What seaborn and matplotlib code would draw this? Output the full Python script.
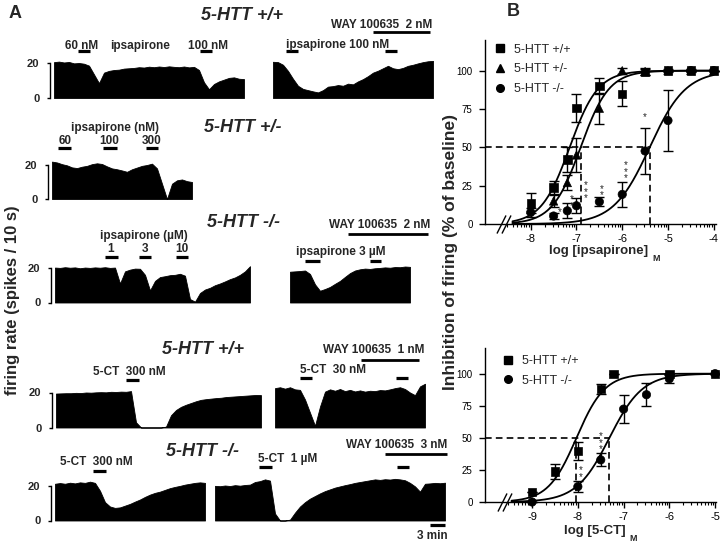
import numpy as np
import pandas as pd
import matplotlib
matplotlib.use("Agg")
import matplotlib.pyplot as plt
from matplotlib.lines import Line2D
import seaborn as sns

# ---------------- DATA ----------------
# Panel A: firing-rate traces (spikes / 10 s), one value per minute
TR1_LEFT = [20.5, 20.8, 20.3, 20.6, 19.8, 20.0, 19.6, 18.5, 13.5, 8.5, 14.5, 15.5, 16.0, 16.2,
            16.8, 17.0, 17.2, 17.6, 17.4, 17.9, 17.6, 18.0, 17.7, 18.1, 17.8, 17.6, 18.0, 17.5,
            17.8, 16.0, 9.0, 5.0, 8.0, 9.5, 10.5, 11.5, 11.8, 11.0, 10.8]
TR1_RIGHT = [20.7, 20.5, 19.0, 15.5, 11.0, 7.0, 5.2, 4.5, 3.8, 3.2, 4.5, 6.5, 6.8, 7.4, 7.0,
             8.2, 7.8, 9.5, 10.8, 12.5, 14.5, 15.6, 17.0, 18.4, 17.0, 16.5, 17.2, 18.4, 19.0,
             19.8, 20.5, 21.0, 21.2]
TR2 = [22.0, 21.5, 20.5, 19.8, 18.6, 18.2, 19.0, 19.5, 20.5, 21.0, 20.6, 19.2, 18.0, 17.5,
       16.8, 16.0, 17.5, 18.5, 19.5, 20.0, 20.8, 18.0, 9.0, 0.0, 9.0, 11.0, 11.5, 10.5, 10.0]
TR3_LEFT = [20.2, 20.0, 20.4, 20.1, 20.3, 19.8, 20.2, 20.0, 20.3, 20.1, 20.4, 20.0, 20.2, 11.0,
            18.0, 19.0, 19.6, 19.5, 16.0, 7.0, 12.5, 14.7, 15.2, 15.8, 16.0, 16.6, 15.5, 2.0,
            0.5, 5.5, 7.5, 8.5, 10.0, 11.0, 12.2, 13.5, 14.5, 16.0, 18.0, 21.0]
TR3_RIGHT = [17.8, 18.0, 18.2, 18.5, 16.5, 10.5, 6.8, 7.8, 9.0, 10.8, 12.5, 14.8, 17.0, 18.5,
             19.2, 19.6, 19.4, 19.8, 20.0, 20.3, 20.1, 20.5, 20.4, 20.8, 20.6]
TR4_LEFT = [19.4, 19.5, 19.6, 19.6, 19.8, 19.7, 20.0, 19.9, 20.1, 20.2, 20.1, 20.4, 20.3, 20.5,
            20.4, 20.8, 3.0, 0.0, 0.0, 0.0, 0.0, 0.0, 0.5, 7.0, 10.0, 11.8, 13.0, 14.0, 15.0,
            15.8, 16.2, 16.5, 16.8, 17.0, 17.4, 17.6, 17.8, 18.0, 18.2, 18.4, 18.6, 18.5]
TR4_RIGHT = [22.5, 23.0, 22.2, 23.0, 21.8, 21.5, 16.0, 8.5, 1.0, 12.0, 20.5, 21.8, 21.0, 22.0,
             20.8, 21.5, 20.6, 21.2, 20.5, 21.0, 20.8, 21.4, 21.2, 21.8, 22.5, 23.0, 22.0, 20.0,
             18.5, 23.5, 25.0]
TR5_LEFT = [21.0, 21.4, 21.0, 21.6, 21.2, 21.8, 21.5, 22.2, 21.5, 17.0, 10.5, 8.0, 7.2, 7.5,
            8.5, 9.5, 10.8, 12.0, 13.5, 14.8, 15.8, 16.5, 17.5, 18.5, 19.2, 19.8, 20.5, 21.0,
            21.5, 21.8, 21.5]
TR5_RIGHT = [19.8, 19.6, 20.0, 19.7, 20.2, 19.9, 20.3, 20.5, 22.0, 22.5, 23.5, 22.8, 4.0, 0.0,
             0.0, 0.5, 4.5, 8.0, 10.5, 12.5, 14.0, 15.5, 16.8, 17.8, 18.8, 19.5, 20.2, 20.8,
             21.5, 22.0, 22.5, 23.0, 23.5, 23.2, 23.6, 23.4, 23.8, 23.5, 23.0, 21.5, 19.5, 16.5,
             21.0, 21.2, 21.5, 21.3, 21.6]

# drug application periods (minutes from start of each trace)
EV1_LEFT = [(4.8, 7.2), (29.2, 31.6)]
EV1_RIGHT = [(2.6, 5.0), (22.4, 24.8)]
WAY1 = (20.0, 31.4)
EV2 = [(1.2, 3.8), (10.2, 13.0), (18.8, 21.2)]
EV3_LEFT = [(10.0, 12.6), (16.8, 19.2), (24.2, 26.6)]
EV3_RIGHT = [(3.0, 6.0), (16.0, 18.2)]
WAY3 = (11.6, 27.6)
EV4_LEFT = [(14.0, 16.6)]
EV4_RIGHT = [(5.0, 7.4), (24.2, 26.6)]
WAY4 = (17.2, 28.8)
EV5_LEFT = [(7.6, 10.2)]
EV5_RIGHT = [(8.8, 11.4), (36.4, 38.8)]
WAY5 = (34.0, 46.4)
SCALE_MIN = 3

# Panel B top: ipsapirone concentration-response
IPS_LOG_WT = [-8, -7.5, -7.2, -7, -6.5, -6, -5.5, -5, -4.5, -4]
IPS_WT = [13.4, 23.8, 42, 75.5, 90, 85, 99, 100, 100, 100]
IPS_WT_ERR = [6.5, 4, 8, 9, 5, 8, 2, 0, 0, 0]
IPS_LOG_HET = [-7.5, -7.2, -7, -6.5, -6, -5.5, -5, -4.5, -4]
IPS_HET = [15, 27, 45, 75.5, 100, 99.5, 100, 100, 100]
IPS_HET_ERR = [4, 5, 11, 10, 2, 2, 1, 0, 0]
IPS_LOG_KO = [-8, -7.5, -7.2, -7, -6.5, -6, -5.5, -5, -4.5, -4]
IPS_KO = [7.6, 5.2, 8.6, 11.9, 14.5, 19.3, 47.6, 67.5, 100, 100]
IPS_KO_ERR = [3, 2, 5, 5, 3, 8, 15, 20, 1, 0]
IPS_EC50 = {"5-HTT +/+": -7.15, "5-HTT +/-": -6.91, "5-HTT -/-": -5.40}
IPS_HILL = {"5-HTT +/+": 1.4, "5-HTT +/-": 1.4, "5-HTT -/-": 1.1}

# Panel B bottom: 5-CT concentration-response
CT_LOG_WT = [-9, -8.5, -8, -7.5, -7.22, -6, -5]
CT_WT = [8, 23.7, 39.8, 88.3, 100, 100, 100]
CT_WT_ERR = [0, 6, 7, 4, 0, 0, 0]
CT_LOG_KO = [-9, -8, -7.5, -7, -6.5, -6, -5]
CT_KO = [0, 12, 32.8, 72.4, 83.6, 96, 100]
CT_KO_ERR = [0, 4, 5, 11, 9, 3, 0]
CT_EC50 = {"5-HTT +/+": -8.03, "5-HTT -/-": -7.31}
CT_HILL = {"5-HTT +/+": 1.4, "5-HTT -/-": 1.2}

# ---------------- STYLE ----------------
sns.set_theme(style="ticks")
plt.rcParams["font.family"] = ["Liberation Sans", "DejaVu Sans"]
plt.rcParams["axes.unicode_minus"] = False

W, H = 720, 543
PX_PER_MIN = 5
fig = plt.figure(figsize=(W / 100, H / 100), dpi=100)
fig.patch.set_facecolor("white")


def txt(x, y, s, ha="left", size=8.5, style="normal", weight="bold", rot=0):
    return fig.text(x / W, 1 - y / H, s, ha=ha, va="center", fontsize=size,
                    fontweight=weight, fontstyle=style, rotation=rot)


def trace(x0, base, scale, values, scalebar):
    n = len(values)
    ax = fig.add_axes([x0 / W, 1 - base / H, (n - 1) * PX_PER_MIN / W, 20 * scale / H])
    t = np.arange(n)
    ax.fill_between(t, values, 0, color="black", lw=0.6, clip_on=False)
    ax.set_xlim(0, n - 1)
    ax.set_ylim(0, 20)
    ax.patch.set_alpha(0)
    for s in ["top", "right", "bottom"]:
        ax.spines[s].set_visible(False)
    ax.set_xticks([])
    if scalebar:
        ax.spines["left"].set_position(("outward", 3))
        ax.spines["left"].set_bounds(0, 20)
        ax.spines["left"].set_linewidth(1.0)
        ax.spines["left"].set_color("black")
        ax.set_yticks([0, 20])
        ax.set_yticklabels(["0", "20"], fontweight="bold", fontsize=8)
        ax.tick_params(axis="y", length=2.5, width=1.0, pad=5, color="black")
    else:
        ax.spines["left"].set_visible(False)
        ax.set_yticks([])
    return (ax, base, scale)


def bars(info, events, y_px, lw=2.3):
    ax, base, scale = info
    yv = (base - y_px) / scale
    for t0, t1 in events:
        ax.plot([t0, t1], [yv, yv], color="black", lw=lw, solid_capstyle="butt", clip_on=False)


# ---------------- PANEL A ----------------
txt(15, 14, "A", ha="center", size=13)
txt(13, 300, "firing rate (spikes / 10 s)", ha="center", size=12, rot=90)

# row 1
txt(242, 15, "5-HTT +/+", ha="center", size=13, style="italic")
a = trace(54, 98, 1.75, TR1_LEFT, True)
bars(a, EV1_LEFT, 51)
txt(65, 46, "60 nM")
txt(110, 46, "ipsapirone")
txt(188, 46, "100 nM")
b = trace(273, 98, 1.75, TR1_RIGHT, False)
bars(b, EV1_RIGHT, 51)
bars(b, [WAY1], 32, lw=2.0)
txt(286, 45, "ipsapirone 100 nM")
txt(432, 25, "WAY 100635  2 nM", ha="right")

# row 2
txt(243, 127, "5-HTT +/-", ha="center", size=13, style="italic")
c = trace(52, 199, 1.7, TR2, True)
bars(c, EV2, 148)
txt(115, 128, "ipsapirone (nM)", ha="center")
for xc, lab in zip([65, 109, 152], ["60", "100", "300"]):
    txt(xc, 141, lab, ha="center")

# row 3
txt(243, 222, "5-HTT -/-", ha="center", size=13, style="italic")
d = trace(55, 302.5, 1.73, TR3_LEFT, True)
bars(d, EV3_LEFT, 257)
txt(144, 236, "ipsapirone (µM)", ha="center")
for xc, lab in zip([111, 145, 182], ["1", "3", "10"]):
    txt(xc, 249, lab, ha="center")
e = trace(290, 302.5, 1.73, TR3_RIGHT, False)
bars(e, EV3_RIGHT, 261)
bars(e, [WAY3], 234, lw=2.0)
txt(296, 252, "ipsapirone 3 µM")
txt(430, 225, "WAY 100635  2 nM", ha="right")

# row 4
txt(203, 350, "5-HTT +/+", ha="center", size=13, style="italic")
f = trace(56, 427.5, 1.75, TR4_LEFT, True)
bars(f, EV4_LEFT, 380)
txt(93, 372, "5-CT  300 nM")
g = trace(275, 427.5, 1.75, TR4_RIGHT, False)
bars(g, EV4_RIGHT, 378)
bars(g, [WAY4], 360, lw=2.0)
txt(300, 370, "5-CT  30 nM")
txt(424, 350, "WAY 100635  1 nM", ha="right")

# row 5
txt(203, 452, "5-HTT -/-", ha="center", size=13, style="italic")
h = trace(55, 520.5, 1.75, TR5_LEFT, True)
bars(h, EV5_LEFT, 471)
txt(60, 462, "5-CT  300 nM")
k = trace(215, 520.5, 1.75, TR5_RIGHT, False)
bars(k, EV5_RIGHT, 467)
bars(k, [WAY5], 454, lw=2.0)
n5 = len(TR5_RIGHT) - 1
bars(k, [(n5 - SCALE_MIN, n5)], 525, lw=2.3)
txt(258, 459, "5-CT  1 µM")
txt(447, 445, "WAY 100635  3 nM", ha="right")
txt(448, 536, "3 min", ha="right")

# ---------------- PANEL B ----------------
txt(513, 12, "B", ha="center", size=13)
txt(450, 252, "Inhibition of firing (% of baseline)", ha="center", size=12.5, rot=90)

MARK = {"5-HTT +/+": "s", "5-HTT +/-": "^", "5-HTT -/-": "o"}


def hill(x, ec50, n):
    return 100.0 / (1.0 + 10 ** ((ec50 - x) * n))


def style_axis(ax, xlim, majors):
    ax.set_xlim(*xlim)
    ax.set_ylim(0, 120)
    sns.despine(ax=ax)
    for s in ["left", "bottom"]:
        ax.spines[s].set_linewidth(1.0)
        ax.spines[s].set_color("black")
    ax.set_yticks([0, 25, 50, 75, 100])
    ax.set_xticks(majors)
    ax.set_xticklabels([str(int(v)) for v in majors])
    minors = [d + np.log10(m) for d in range(int(xlim[0]) - 1, int(xlim[1]) + 1)
              for m in range(2, 10)]
    minors = [v for v in minors if majors[0] - 0.62 < v < xlim[1]]
    ax.set_xticks(minors, minor=True)
    ax.tick_params(axis="both", which="major", direction="out", length=4, width=1,
                   color="black", labelcolor="black")
    ax.tick_params(axis="x", which="major", labelsize=8, pad=3)
    ax.tick_params(axis="y", which="major", labelsize=7, pad=5)
    ax.tick_params(axis="x", which="minor", direction="out", length=2.2, width=0.8, color="black")
    ax.patch.set_alpha(0)


def panel(ax, groups, ec50s, hills, xstart, xend, legend_anchor):
    frames = []
    for name, lx, ly, le in groups:
        frames.append(pd.DataFrame({"logc": lx, "inh": ly, "err": le, "geno": name}))
    df = pd.concat(frames, ignore_index=True)
    for name, sub in df.groupby("geno", sort=False):
        ax.errorbar(sub["logc"], sub["inh"], yerr=sub["err"], fmt="none", ecolor="black",
                    elinewidth=1.0, capsize=3.5, capthick=1.0, clip_on=False, zorder=2)
    sns.scatterplot(data=df, x="logc", y="inh", style="geno", markers=MARK, color="black",
                    edgecolor="black", s=36, legend=False, ax=ax, zorder=3, clip_on=False)
    grid = np.linspace(xstart, xend, 300)
    for name in ec50s:
        sns.lineplot(x=grid, y=hill(grid, ec50s[name], hills[name]), color="black", lw=1.3,
                     ax=ax, zorder=2)
    handles = [Line2D([], [], ls="none", marker=MARK[nm], color="black", markersize=5.5)
               for nm, *_ in groups]
    ax.legend(handles, [nm for nm, *_ in groups], loc="upper left", bbox_to_anchor=legend_anchor,
              frameon=False, fontsize=9, handlelength=0.9, handletextpad=0.7,
              labelspacing=0.62, borderaxespad=0, borderpad=0)
    ax.set_xlabel("")
    ax.set_ylabel("")


def breakmark(ax, x):
    ax.plot([x, x + 0.12], [0, 0], ls="none", marker=[(-1, -2.0), (1, 2.0)], markersize=13,
            mec="black", mew=1.0, clip_on=False)


def dashed(ax, ec_list, ec_h):
    x0 = ax.get_xlim()[0]
    ax.plot([x0, ec_h], [50, 50], color="black", lw=1.2, ls=(0, (4, 2.5)), zorder=1)
    for ec in ec_list:
        ax.plot([ec, ec], [0, 50], color="black", lw=1.2, ls=(0, (4, 2.5)), zorder=1)


axT = fig.add_axes([485 / W, 1 - 224 / H, 231 / W, 184 / H])
style_axis(axT, (-9.0, -3.95), [-8, -7, -6, -5, -4])
panel(axT,
      [("5-HTT +/+", IPS_LOG_WT, IPS_WT, IPS_WT_ERR),
       ("5-HTT +/-", IPS_LOG_HET, IPS_HET, IPS_HET_ERR),
       ("5-HTT -/-", IPS_LOG_KO, IPS_KO, IPS_KO_ERR)],
      IPS_EC50, IPS_HILL, -8.4, -4.0, (0.04, 0.98))
dashed(axT, [IPS_EC50["5-HTT +/-"], IPS_EC50["5-HTT -/-"]], IPS_EC50["5-HTT -/-"])
breakmark(axT, -8.66)
for x, y, s in [(-7.37, 8, "*"), (-7.1, 14, "*\n*"), (-6.8, 21, "*\n*\n*"),
                (-6.44, 21, "*\n*"), (-5.93, 34, "*\n*\n*"), (-5.51, 70, "*")]:
    axT.text(x, y, s, ha="center", va="center", fontsize=7, linespacing=0.55)
t1 = txt(599, 251, "log [ipsapirone]", ha="center", size=9.5)
axT.annotate("M", xy=(1, 0), xycoords=t1, xytext=(2.5, -1), textcoords="offset points",
             fontsize=6.5, fontweight="bold", va="center", ha="left")

axB = fig.add_axes([485 / W, 1 - 502 / H, 231 / W, 154 / H])
style_axis(axB, (-10.03, -4.98), [-9, -8, -7, -6, -5])
panel(axB,
      [("5-HTT +/+", CT_LOG_WT, CT_WT, CT_WT_ERR),
       ("5-HTT -/-", CT_LOG_KO, CT_KO, CT_KO_ERR)],
      CT_EC50, CT_HILL, -9.45, -5.0, (0.075, 0.955))
dashed(axB, [CT_EC50["5-HTT +/+"], CT_EC50["5-HTT -/-"]], CT_EC50["5-HTT -/-"])
breakmark(axB, -9.66)
for x, y, s in [(-7.5, 46, "*\n*\n*"), (-7.94, 22, "*\n*")]:
    axB.text(x, y, s, ha="center", va="center", fontsize=7, linespacing=0.55)
t2 = txt(595, 531, "log [5-CT]", ha="center", size=9.5)
axB.annotate("M", xy=(1, 0), xycoords=t2, xytext=(2.5, -1), textcoords="offset points",
             fontsize=6.5, fontweight="bold", va="center", ha="left")

fig.savefig("out.png", dpi=100, facecolor="white")
